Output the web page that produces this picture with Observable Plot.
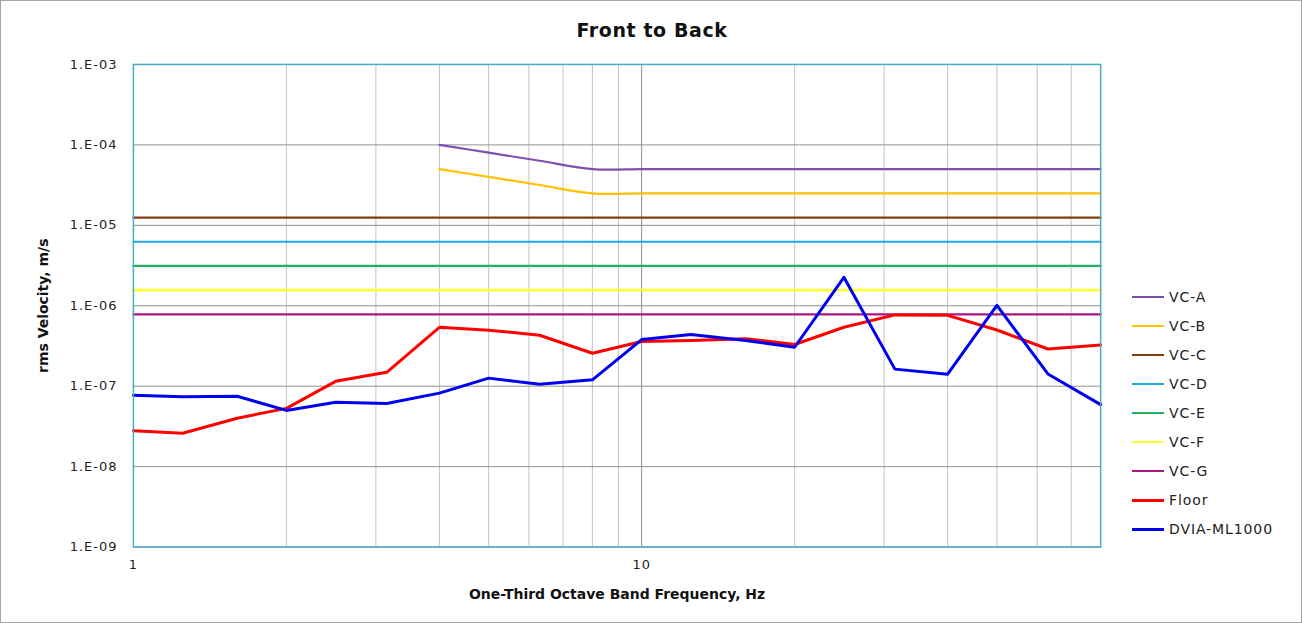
<!DOCTYPE html>
<html>
<head>
<meta charset="utf-8">
<script src="https://cdn.jsdelivr.net/npm/d3@7"></script>
<script src="https://cdn.jsdelivr.net/npm/@observablehq/plot@0.6"></script>
<style>
  html, body { margin: 0; padding: 0; background: #fff; }
  #wrap { position: relative; width: 1302px; height: 623px; box-sizing: border-box; border: 1px solid #a6a6a6; font-family: "DejaVu Sans", sans-serif; overflow: hidden; }
  #title { position: absolute; left: 0; top: 18px; width: 1302px; text-align: center; font-size: 19px; font-weight: bold; color: #111; letter-spacing: 0.6px; }
  #chart { position: absolute; left: -1px; top: -1px; }
  #legend { position: absolute; left: 1131px; top: 281px; font-size: 14px; color: #222; letter-spacing: 0.9px; }
  .li { display: flex; align-items: center; height: 29.1px; }
  .sw { width: 32px; margin-right: 5px; }
  #chart g[aria-label="y-axis tick label"] text { letter-spacing: 1px; }
  #chart g[aria-label="x-axis tick label"] text { letter-spacing: 1px; }
  #chart g[aria-label="axis-title"] text { letter-spacing: 0.5px; }
</style>
</head>
<body>
<div id="wrap">
  <div id="title">Front to Back</div>
  <div id="chart"></div>
  <div id="legend"></div>
</div>
<script>
// One-third octave band centre frequencies (Hz)
const freqs = [1, 1.25, 1.6, 2, 2.5, 3.15, 4, 5, 6.3, 8, 10, 12.5, 16, 20, 25, 31.5, 40, 50, 63, 80];

// Vibration criteria curves (m/s)
const vcA = [null, null, null, null, null, null, 1.0e-4, 8.0e-5, 6.35e-5, 5.0e-5, 5.0e-5, 5.0e-5, 5.0e-5, 5.0e-5, 5.0e-5, 5.0e-5, 5.0e-5, 5.0e-5, 5.0e-5, 5.0e-5];
const vcB = [null, null, null, null, null, null, 5.0e-5, 4.0e-5, 3.17e-5, 2.5e-5, 2.5e-5, 2.5e-5, 2.5e-5, 2.5e-5, 2.5e-5, 2.5e-5, 2.5e-5, 2.5e-5, 2.5e-5, 2.5e-5];
const vcC = freqs.map(() => 1.25e-5);
const vcD = freqs.map(() => 6.25e-6);
const vcE = freqs.map(() => 3.125e-6);
const vcF = freqs.map(() => 1.5625e-6);
const vcG = freqs.map(() => 7.8e-7);

// Measured data (m/s)
const floor = [2.8e-8, 2.6e-8, 4.0e-8, 5.3e-8, 1.15e-7, 1.49e-7, 5.4e-7, 4.97e-7, 4.3e-7, 2.57e-7, 3.6e-7, 3.7e-7, 3.9e-7, 3.3e-7, 5.4e-7, 7.7e-7, 7.6e-7, 5.0e-7, 2.9e-7, 3.25e-7];
const dvia  = [7.7e-8, 7.4e-8, 7.5e-8, 5.0e-8, 6.3e-8, 6.1e-8, 8.2e-8, 1.26e-7, 1.06e-7, 1.2e-7, 3.8e-7, 4.4e-7, 3.7e-7, 3.05e-7, 2.26e-6, 1.63e-7, 1.41e-7, 1.01e-6, 1.42e-7, 5.9e-8];

// Series names and colours
const seriesNames  = ["VC-A", "VC-B", "VC-C", "VC-D", "VC-E", "VC-F", "VC-G", "Floor", "DVIA-ML1000"];
const seriesValues = [vcA, vcB, vcC, vcD, vcE, vcF, vcG, floor, dvia];
const seriesColors = ["#7F4FB0", "#FFC000", "#843C0C", "#1CA9DE", "#21B05E", "#FFFF33", "#A8187E", "#FF0000", "#0000F0"];
const seriesWidths = [2.2, 2.2, 2.2, 2.2, 2.2, 2.6, 2.2, 3, 3];
const seriesCurves = ["catmull-rom", "catmull-rom", "linear", "linear", "linear", "linear", "linear", "linear", "linear"];

// Ticks
const yTicks = [1e-9, 1e-8, 1e-7, 1e-6, 1e-5, 1e-4, 1e-3];
const xLabelTicks = [1, 10];
const xMinorGrid = [2, 3, 4, 5, 6, 7, 8, 9, 20, 30, 40, 50, 60, 70];
const xMajorGrid = [10];

const yFmt = d => "1.E-" + String(-Math.round(Math.log10(d))).padStart(2, "0");

const rows = [];
seriesNames.forEach((name, i) => {
  freqs.forEach((f, j) => rows.push({series: name, f, v: seriesValues[i][j]}));
});

const lineMarks = seriesNames.map((name, i) =>
  Plot.line(rows.filter(r => r.series === name), {
    x: "f", y: "v",
    stroke: seriesColors[i], strokeWidth: seriesWidths[i],
    curve: seriesCurves[i], strokeLinejoin: "round"
  })
);

const chart = Plot.plot({
  width: 1302,
  height: 623,
  marginTop: 64,
  marginBottom: 76,
  marginLeft: 133,
  marginRight: 201,
  style: {fontFamily: '"DejaVu Sans", sans-serif', background: "transparent"},
  x: {type: "log", domain: [1, 80]},
  y: {type: "log", domain: [1e-9, 1e-3]},
  marks: [
    Plot.ruleX(xMinorGrid, {stroke: "#c3c3c3", strokeWidth: 1}),
    Plot.ruleX(xMajorGrid, {stroke: "#8c8c8c", strokeWidth: 1}),
    Plot.ruleY(yTicks, {stroke: "#919191", strokeWidth: 1}),
    ...lineMarks,
    Plot.frame({stroke: "#4BACC6", strokeWidth: 1.5}),
    Plot.axisY({ticks: yTicks, tickFormat: yFmt, tickSize: 0, tickPadding: 16, label: null, fontSize: 13, fill: "#222"}),
    Plot.axisX({ticks: xLabelTicks, tickFormat: d => String(d), tickSize: 0, tickPadding: 13, label: null, fontSize: 13, fill: "#222"}),
    Plot.text(["One-Third Octave Band Frequency, Hz"], {frameAnchor: "bottom", lineAnchor: "middle", dy: 47, fontWeight: "bold", fontSize: 14, fill: "#111", ariaLabel: "axis-title"}),
    Plot.text(["rms Velocity, m/s"], {frameAnchor: "left", lineAnchor: "middle", textAnchor: "middle", dx: -90, rotate: -90, fontWeight: "bold", fontSize: 14, fill: "#111", ariaLabel: "axis-title"})
  ]
});
document.getElementById("chart").appendChild(chart);

const leg = document.getElementById("legend");
seriesNames.forEach((name, i) => {
  const row = document.createElement("div");
  row.className = "li";
  const sw = document.createElement("div");
  sw.className = "sw";
  sw.style.borderTop = (i >= 7 ? 3 : 2.5) + "px solid " + seriesColors[i];
  const t = document.createElement("span");
  t.textContent = name;
  row.appendChild(sw);
  row.appendChild(t);
  leg.appendChild(row);
});
</script>
</body>
</html>
